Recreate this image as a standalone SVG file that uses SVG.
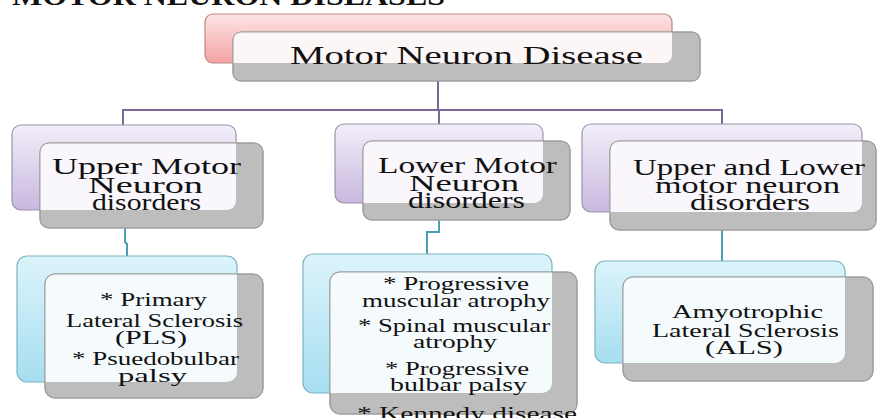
<svg xmlns="http://www.w3.org/2000/svg" width="878" height="418" viewBox="0 0 878 418">
<style>
  .t { font-family: "Liberation Serif", "Times New Roman", serif; fill: #111; }
  .l2 { font-size: 23px; }
  .l3 { font-size: 19px; }
  .gray { fill: #bdbdbd; stroke: #9a9a9a; stroke-width: 1.2; }
  .edge { fill: none; stroke: #a0a0a0; stroke-width: 1; }
  .pc { fill: none; stroke: #7b6a98; stroke-width: 2; }
  .tc { fill: none; stroke: #4a9fb2; stroke-width: 2; }
</style>
<defs>
  <linearGradient id="pinkG" x1="0" y1="0" x2="0" y2="1">
    <stop offset="0" stop-color="#fde4e4"/>
    <stop offset="1" stop-color="#f4a3a3"/>
  </linearGradient>
  <linearGradient id="purpG" x1="0" y1="0" x2="0" y2="1">
    <stop offset="0" stop-color="#f2eef9"/>
    <stop offset="1" stop-color="#c8b8df"/>
  </linearGradient>
  <linearGradient id="cyanG" x1="0" y1="0" x2="0" y2="1">
    <stop offset="0" stop-color="#dcf4fb"/>
    <stop offset="1" stop-color="#a6def0"/>
  </linearGradient>
  <clipPath id="cTop"><rect x="233" y="32" width="467" height="49" rx="8"/></clipPath>
  <clipPath id="cL2a"><rect x="40" y="143" width="223" height="85" rx="9"/></clipPath>
  <clipPath id="cL2b"><rect x="363" y="141" width="207" height="79" rx="9"/></clipPath>
  <clipPath id="cL2c"><rect x="610" y="141" width="266" height="89" rx="9"/></clipPath>
  <clipPath id="cL3a"><rect x="45" y="274" width="218" height="124" rx="10"/></clipPath>
  <clipPath id="cL3b"><rect x="330" y="272" width="247" height="142" rx="10"/></clipPath>
  <clipPath id="cL3c"><rect x="623" y="277" width="250" height="104" rx="10"/></clipPath>
</defs>

<rect width="878" height="418" fill="#ffffff"/>

<text class="t" x="12" y="5" font-size="28" font-weight="bold" textLength="433" lengthAdjust="spacingAndGlyphs">MOTOR NEURON DISEASES</text>

<g id="connectors">
  <path class="pc" d="M438 81 V110 M122 110 H723 M123 110 V125 M439 110 V124 M722 110 V124"/>
  <path class="tc" d="M125 228 V242 L127 244 V256"/>
  <path class="tc" d="M439 220 V232 H427 V254"/>
  <path class="tc" d="M722 230 V261"/>
</g>

<g id="node-top">
  <rect x="205" y="14" width="467" height="49" rx="8" fill="url(#pinkG)" stroke="#c08585" stroke-width="1.2"/>
  <rect class="gray" x="233" y="32" width="467" height="49" rx="8" stroke="#b07d7d"/>
  <rect x="205" y="14" width="467" height="49" rx="8" fill="#fdf6f6" clip-path="url(#cTop)"/>
  <rect class="edge" x="233" y="32" width="467" height="49" rx="8"/>
  <text class="t" x="290" y="64" font-size="26" textLength="353" lengthAdjust="spacingAndGlyphs">Motor Neuron Disease</text>
</g>

<g id="node-umn">
  <rect x="12" y="125" width="224" height="85" rx="9" fill="url(#purpG)" stroke="#9c92ab" stroke-width="1.2"/>
  <rect class="gray" x="40" y="143" width="223" height="85" rx="9"/>
  <rect x="12" y="125" width="224" height="85" rx="9" fill="#f9f7fc" clip-path="url(#cL2a)"/>
  <rect class="edge" x="40" y="143" width="223" height="85" rx="9"/>
  <text class="t l2" x="52" y="174" textLength="189" lengthAdjust="spacingAndGlyphs">Upper Motor</text>
  <text class="t l2" x="88" y="193" textLength="115" lengthAdjust="spacingAndGlyphs">Neuron</text>
  <text class="t l2" x="92" y="210" textLength="109" lengthAdjust="spacingAndGlyphs">disorders</text>
</g>

<g id="node-lmn">
  <rect x="335" y="124" width="208" height="79" rx="9" fill="url(#purpG)" stroke="#9c92ab" stroke-width="1.2"/>
  <rect class="gray" x="363" y="141" width="207" height="79" rx="9"/>
  <rect x="335" y="124" width="208" height="79" rx="9" fill="#f9f7fc" clip-path="url(#cL2b)"/>
  <rect class="edge" x="363" y="141" width="207" height="79" rx="9"/>
  <text class="t l2" x="378" y="173" textLength="179" lengthAdjust="spacingAndGlyphs">Lower Motor</text>
  <text class="t l2" x="409" y="191" textLength="110" lengthAdjust="spacingAndGlyphs">Neuron</text>
  <text class="t l2" x="408" y="208" textLength="117" lengthAdjust="spacingAndGlyphs">disorders</text>
</g>

<g id="node-ulmn">
  <rect x="582" y="124" width="280" height="88" rx="9" fill="url(#purpG)" stroke="#9c92ab" stroke-width="1.2"/>
  <rect class="gray" x="610" y="141" width="266" height="89" rx="9"/>
  <rect x="582" y="124" width="280" height="88" rx="9" fill="#f9f7fc" clip-path="url(#cL2c)"/>
  <rect class="edge" x="610" y="141" width="266" height="89" rx="9"/>
  <text class="t l2" x="633" y="175" textLength="232" lengthAdjust="spacingAndGlyphs">Upper and Lower</text>
  <text class="t l2" x="655" y="193" textLength="185" lengthAdjust="spacingAndGlyphs">motor neuron</text>
  <text class="t l2" x="690" y="210" textLength="120" lengthAdjust="spacingAndGlyphs">disorders</text>
</g>

<g id="node-pls">
  <rect x="17" y="256" width="220" height="126" rx="10" fill="url(#cyanG)" stroke="#7ab3c2" stroke-width="1.2"/>
  <rect class="gray" x="45" y="274" width="218" height="124" rx="10"/>
  <rect x="17" y="256" width="220" height="126" rx="10" fill="#f5fbfd" clip-path="url(#cL3a)"/>
  <rect class="edge" x="45" y="274" width="218" height="124" rx="10"/>
  <text class="t l3" x="100" y="306" textLength="107" lengthAdjust="spacingAndGlyphs">* Primary</text>
  <text class="t l3" x="66" y="327" textLength="177" lengthAdjust="spacingAndGlyphs">Lateral Sclerosis</text>
  <text class="t l3" x="115" y="344" textLength="72" lengthAdjust="spacingAndGlyphs">(PLS)</text>
  <text class="t l3" x="72" y="365" textLength="167" lengthAdjust="spacingAndGlyphs">* Psuedobulbar</text>
  <text class="t l3" x="118" y="382" textLength="69" lengthAdjust="spacingAndGlyphs">palsy</text>
</g>

<g id="node-lmn-list">
  <rect x="303" y="254" width="249" height="139" rx="10" fill="url(#cyanG)" stroke="#7ab3c2" stroke-width="1.2"/>
  <rect class="gray" x="330" y="272" width="247" height="142" rx="10"/>
  <rect x="303" y="254" width="249" height="139" rx="10" fill="#f5fbfd" clip-path="url(#cL3b)"/>
  <rect class="edge" x="330" y="272" width="247" height="142" rx="10"/>
  <text class="t l3" x="383" y="290" textLength="146" lengthAdjust="spacingAndGlyphs">* Progressive</text>
  <text class="t l3" x="362" y="307" textLength="188" lengthAdjust="spacingAndGlyphs">muscular atrophy</text>
  <text class="t l3" x="358" y="332" textLength="192" lengthAdjust="spacingAndGlyphs">* Spinal muscular</text>
  <text class="t l3" x="413" y="348" textLength="84" lengthAdjust="spacingAndGlyphs">atrophy</text>
  <text class="t l3" x="385" y="375" textLength="144" lengthAdjust="spacingAndGlyphs">* Progressive</text>
  <text class="t l3" x="390" y="391" textLength="137" lengthAdjust="spacingAndGlyphs">bulbar palsy</text>
  <text class="t l3" x="357" y="420" textLength="220" lengthAdjust="spacingAndGlyphs">* Kennedy disease</text>
</g>

<g id="node-als">
  <rect x="595" y="261" width="250" height="102" rx="10" fill="url(#cyanG)" stroke="#7ab3c2" stroke-width="1.2"/>
  <rect class="gray" x="623" y="277" width="250" height="104" rx="10"/>
  <rect x="595" y="261" width="250" height="102" rx="10" fill="#f5fbfd" clip-path="url(#cL3c)"/>
  <rect class="edge" x="623" y="277" width="250" height="104" rx="10"/>
  <text class="t l3" x="672" y="318" textLength="151" lengthAdjust="spacingAndGlyphs">Amyotrophic</text>
  <text class="t l3" x="652" y="337" textLength="187" lengthAdjust="spacingAndGlyphs">Lateral Sclerosis</text>
  <text class="t l3" x="705" y="354" textLength="78" lengthAdjust="spacingAndGlyphs">(ALS)</text>
</g>
</svg>
